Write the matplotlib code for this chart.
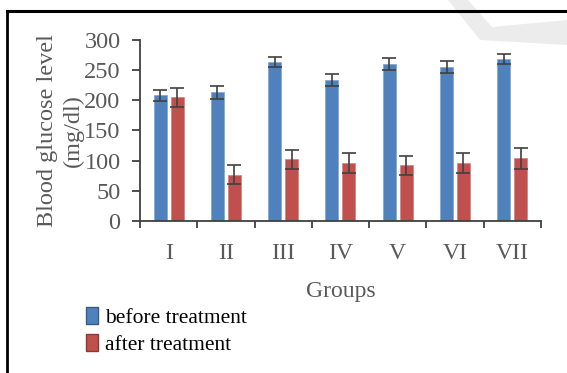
import matplotlib
matplotlib.use("Agg")
import matplotlib.pyplot as plt
import numpy as np
from matplotlib.lines import Line2D
from matplotlib.patches import Polygon, Patch

groups = ["I", "II", "III", "IV", "V", "VI", "VII"]
before = [208, 213, 264, 234, 260, 255, 268]
before_err = [9, 10, 8, 10, 10, 10, 8]
after = [205, 77, 102, 96, 92, 96, 104]
after_err = [16, 16, 16, 16, 16, 16, 17]
yticks = [0, 50, 100, 150, 200, 250, 300]

plt.rcParams['font.family'] = ['Liberation Serif', 'DejaVu Serif']
txt = '#595959'

fig = plt.figure(figsize=(5.67, 3.73), dpi=100)

# faint watermark chevron (background)
W, H = 567.0, 373.0
def fp(px, py):
    return (px / W, 1 - py / H)
wm = Polygon([fp(448, 0), fp(468, 0), fp(492, 27), fp(567, 20), fp(567, 45), fp(480, 40)],
             closed=True, facecolor='#ececec', edgecolor='none', transform=fig.transFigure, zorder=0)
fig.add_artist(wm)

ax = fig.add_axes([0.2469, 0.4075, 0.954 - 0.2469, 0.8928 - 0.4075])
ax.patch.set_alpha(0)

x = np.arange(len(groups))
w = 0.227
off = 0.148
ekw = dict(ecolor='#404040', elinewidth=1.2, capsize=5, capthick=1.2)
ax.bar(x - off, before, w, yerr=before_err, color='#4F81BD', edgecolor='#7FA3D0', linewidth=0.5,
       error_kw=ekw)
ax.bar(x + off, after, w, yerr=after_err, color='#C0504D', edgecolor='#D27F7D', linewidth=0.5,
       error_kw=ekw)

ax.set_xlim(-0.5, len(groups) - 0.5)
ax.set_ylim(0, 300)
ax.set_yticks(yticks)
ax.set_xticks(x)
ax.set_xticklabels(groups)
ax.set_xticks(np.arange(-0.5, len(groups)), minor=True)
ax.tick_params(axis='x', which='major', length=0, pad=16, labelsize=17, labelcolor=txt)
ax.tick_params(axis='x', which='minor', length=5, width=1.3, color='#404040', direction='out')
ax.tick_params(axis='y', length=6, width=1.3, color='#404040', direction='out', labelsize=17.5,
               labelcolor=txt, pad=8)
for s in ['top', 'right']:
    ax.spines[s].set_visible(False)
for s in ['left', 'bottom']:
    ax.spines[s].set_color('#404040')
    ax.spines[s].set_linewidth(1.3)

ax.set_xlabel('Groups', fontsize=17, color=txt, labelpad=12)
ax.set_ylabel('Blood glucose level\n(mg/dl)', fontsize=17.5, color=txt, labelpad=0, linespacing=1.3)
ax.yaxis.set_label_coords(-0.14, 0.5)

handles = [Patch(facecolor='#4F81BD', edgecolor='#385D8A', label='before treatment'),
           Patch(facecolor='#C0504D', edgecolor='#8C3836', label='after treatment')]
leg = fig.legend(handles=handles, loc='upper left', bbox_to_anchor=(0.1515, 0.1766), frameon=False,
                 fontsize=15.5, handlelength=0.55, handleheight=0.8, handletextpad=0.35,
                 labelspacing=0.3, borderaxespad=0, borderpad=0)
for t in leg.get_texts():
    t.set_color('#000000')

# frame lines
fig.add_artist(Line2D([0.0125, 1.0], [0.971, 0.971], color='black', lw=2.2, transform=fig.transFigure))
fig.add_artist(Line2D([0.0125, 0.0125], [0.0, 0.971], color='black', lw=2.0, transform=fig.transFigure))

fig.savefig('out.png', dpi=100)
